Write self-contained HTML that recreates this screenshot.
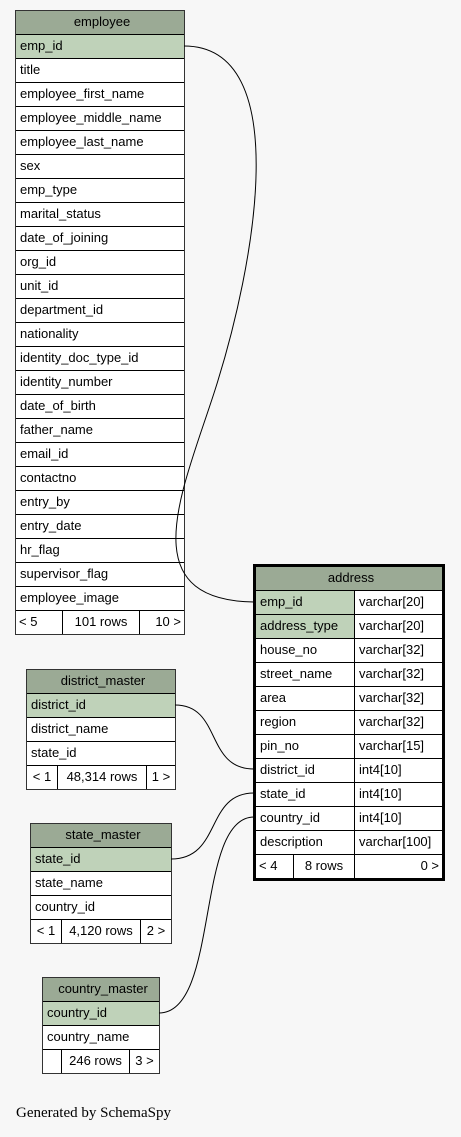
<!DOCTYPE html>
<html><head><meta charset="utf-8"><style>
body{margin:0;width:461px;height:1137px;background:#f7f7f7;position:relative;overflow:hidden;font-family:"Liberation Sans",Arial,sans-serif;font-size:13px;color:#000}
.t{position:absolute;border:1px solid #333;box-sizing:border-box;background:#fff}
.t.thick{border:3px solid #000}
.r{height:24px;box-sizing:border-box;border-top:1px solid #000;display:flex;line-height:21px;white-space:nowrap}
.r:first-child{border-top:none;height:23px}
.h{background:#9baa95;justify-content:center}
.k{background:#bfd2b9}
.c{padding-left:4px;box-sizing:border-box;overflow:hidden}
.c+.c{border-left:1px solid #000}
.f .c{text-align:center;padding:0}
svg{position:absolute;left:0;top:0;z-index:2}
.gen{position:absolute;left:16px;top:1105px;font-family:"Liberation Serif",serif;font-size:15px}
</style></head><body>
<svg width="461" height="1137"><g fill="none" stroke="#000" stroke-width="1">
<path d="M184,46 C295,46 255,265 215,390 C183,490 130,600 254,602"/>
<path d="M175,705 C222,705 205,769 254,769"/>
<path d="M171,859 C222,859 205,793 254,793"/>
<path d="M159,1013 C220,1013 195,817 254,817"/>
</g></svg>

<div class="t" style="left:15px;top:10px;width:170px">
<div class="r h"><div class="c">employee</div></div>
<div class="r k"><div class="c">emp_id</div></div>
<div class="r"><div class="c">title</div></div>
<div class="r"><div class="c">employee_first_name</div></div>
<div class="r"><div class="c">employee_middle_name</div></div>
<div class="r"><div class="c">employee_last_name</div></div>
<div class="r"><div class="c">sex</div></div>
<div class="r"><div class="c">emp_type</div></div>
<div class="r"><div class="c">marital_status</div></div>
<div class="r"><div class="c">date_of_joining</div></div>
<div class="r"><div class="c">org_id</div></div>
<div class="r"><div class="c">unit_id</div></div>
<div class="r"><div class="c">department_id</div></div>
<div class="r"><div class="c">nationality</div></div>
<div class="r"><div class="c">identity_doc_type_id</div></div>
<div class="r"><div class="c">identity_number</div></div>
<div class="r"><div class="c">date_of_birth</div></div>
<div class="r"><div class="c">father_name</div></div>
<div class="r"><div class="c">email_id</div></div>
<div class="r"><div class="c">contactno</div></div>
<div class="r"><div class="c">entry_by</div></div>
<div class="r"><div class="c">entry_date</div></div>
<div class="r"><div class="c">hr_flag</div></div>
<div class="r"><div class="c">supervisor_flag</div></div>
<div class="r"><div class="c">employee_image</div></div>
<div class="r f"><div class="c" style="width:46px;text-align:left;padding-left:3px">&lt; 5</div><div class="c" style="width:77px">101 rows</div><div class="c" style="flex:1;text-align:right;padding-right:3px">10 &gt;</div></div>
</div>

<div class="t thick" style="left:253px;top:564px;width:192px">
<div class="r h"><div class="c">address</div></div>
<div class="r"><div class="c k" style="width:98px">emp_id</div><div class="c" style="flex:1">varchar[20]</div></div>
<div class="r"><div class="c k" style="width:98px">address_type</div><div class="c" style="flex:1">varchar[20]</div></div>
<div class="r"><div class="c" style="width:98px">house_no</div><div class="c" style="flex:1">varchar[32]</div></div>
<div class="r"><div class="c" style="width:98px">street_name</div><div class="c" style="flex:1">varchar[32]</div></div>
<div class="r"><div class="c" style="width:98px">area</div><div class="c" style="flex:1">varchar[32]</div></div>
<div class="r"><div class="c" style="width:98px">region</div><div class="c" style="flex:1">varchar[32]</div></div>
<div class="r"><div class="c" style="width:98px">pin_no</div><div class="c" style="flex:1">varchar[15]</div></div>
<div class="r"><div class="c" style="width:98px">district_id</div><div class="c" style="flex:1">int4[10]</div></div>
<div class="r"><div class="c" style="width:98px">state_id</div><div class="c" style="flex:1">int4[10]</div></div>
<div class="r"><div class="c" style="width:98px">country_id</div><div class="c" style="flex:1">int4[10]</div></div>
<div class="r"><div class="c" style="width:98px">description</div><div class="c" style="flex:1">varchar[100]</div></div>
<div class="r f"><div class="c" style="width:37px;text-align:left;padding-left:3px">&lt; 4</div><div class="c" style="width:61px">8 rows</div><div class="c" style="flex:1;text-align:right;padding-right:3px">0 &gt;</div></div>
</div>

<div class="t" style="left:26px;top:669px;width:150px">
<div class="r h"><div class="c">district_master</div></div>
<div class="r k"><div class="c">district_id</div></div>
<div class="r"><div class="c">district_name</div></div>
<div class="r"><div class="c">state_id</div></div>
<div class="r f"><div class="c" style="width:30px">&lt; 1</div><div class="c" style="width:89px">48,314 rows</div><div class="c" style="flex:1">1 &gt;</div></div>
</div>

<div class="t" style="left:30px;top:823px;width:142px">
<div class="r h"><div class="c">state_master</div></div>
<div class="r k"><div class="c">state_id</div></div>
<div class="r"><div class="c">state_name</div></div>
<div class="r"><div class="c">country_id</div></div>
<div class="r f"><div class="c" style="width:30px">&lt; 1</div><div class="c" style="width:79px">4,120 rows</div><div class="c" style="flex:1">2 &gt;</div></div>
</div>

<div class="t" style="left:42px;top:977px;width:118px">
<div class="r h"><div class="c">country_master</div></div>
<div class="r k"><div class="c">country_id</div></div>
<div class="r"><div class="c">country_name</div></div>
<div class="r f"><div class="c" style="width:18px"></div><div class="c" style="width:68px">246 rows</div><div class="c" style="flex:1">3 &gt;</div></div>
</div>

<div class="gen">Generated by SchemaSpy</div>
</body></html>
